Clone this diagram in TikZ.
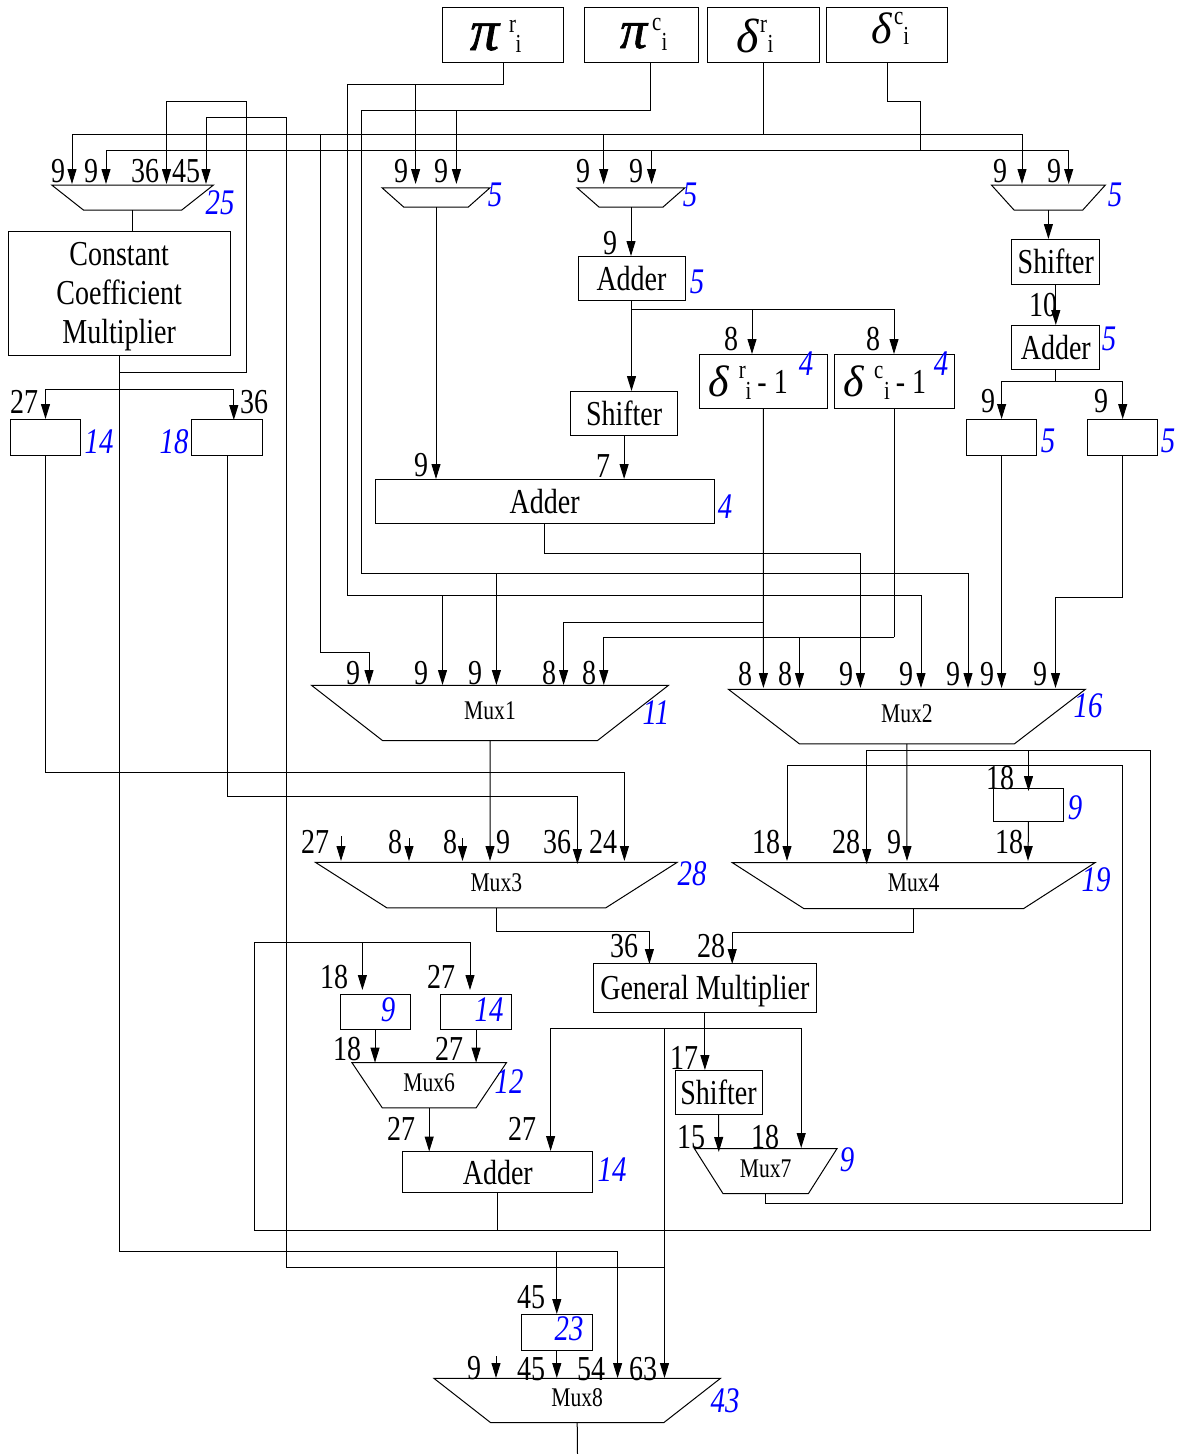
\documentclass[tikz,border=0pt]{standalone}
\usepackage{fontspec}
\setmainfont[FakeStretch=0.8]{Liberation Serif}
\newfontfamily\greekfont{Liberation Serif}
\newfontfamily\pifont[FakeBold=1.2]{Liberation Serif}
\usetikzlibrary{arrows.meta,shapes.geometric}
\newcommand{\boxsym}[9]{\smash{\makebox[0pt][l]{\hspace{#1pt}\raisebox{#2pt}{#3}}\makebox[0pt][l]{\hspace{#4pt}\raisebox{#5pt}{#6}}\makebox[0pt][l]{\hspace{#7pt}\raisebox{#8pt}{#9}}}}
\newcommand{\gsym}[2]{{\fontsize{#1}{#1}\greekfont\itshape #2}}
\newcommand{\psym}[2]{{\fontsize{#1}{#1}\pifont\itshape #2}}
\newcommand{\idx}[1]{{\fontsize{26}{26}\selectfont #1}}
\begin{document}
\begin{tikzpicture}[x=1pt,y=-1pt,
line width=1pt,
blockbox/.style 2 args={rectangle, draw, inner sep=0pt, outer sep=0pt, minimum width=#1pt, minimum height=#2pt, font=\fontsize{35}{39}\selectfont, align=center, text depth=0pt},
muxbox/.style n args={3}{trapezium, draw, shape border rotate=180, trapezium stretches body, inner xsep=0pt, inner ysep={(#2-12)/2*1pt}, outer sep=0pt, minimum width=#1pt, trapezium left angle={atan(#2/#3)}, trapezium right angle={atan(#2/#3)}, font=\fontsize{27}{27}\selectfont, text height=12pt, text depth=0pt},
bitlabel/.style={inner sep=0pt, font=\fontsize{35}{35}\selectfont},
sizelabel/.style={inner sep=0pt, text=blue, font=\fontsize{36}{36}\selectfont\itshape},
sigline/.style={arrows={-Triangle[length=15pt,width=9pt]}}]
\useasboundingbox (0,0) rectangle (1180,1454);
% Nodes
\node[blockbox={120.5}{55}] (piri) at (503,34.5) {\boxsym{-33}{-15.5}{\psym{58}{π}}{6}{2.5}{\idx{r}}{12.5}{-18}{\idx{i}}};
\node[blockbox={114}{55}] (pici) at (641,34.5) {\boxsym{-21}{-13.5}{\psym{54}{π}}{11}{4.5}{\idx{c}}{20.5}{-16}{\idx{i}}};
\node[blockbox={112}{55}] (dri) at (763.5,34.5) {\boxsym{-27.5}{-18}{\gsym{48}{δ}}{-3.5}{2.5}{\idx{r}}{4}{-18}{\idx{i}}};
\node[blockbox={121}{55}] (dci) at (887,34.5) {\boxsym{-16}{-8.8}{\gsym{44}{δ}}{7}{10.5}{\idx{c}}{16.4}{-9.8}{\idx{i}}};
\node[muxbox={161.8}{25}{31.7}] (muxa) at (132.6,197.5) {};
\node[muxbox={108}{19.3}{21.7}] (muxb) at (436,197.4) {};
\node[muxbox={108}{19.3}{22}] (muxc) at (631,197.4) {};
\node[muxbox={114}{25}{22.6}] (muxd) at (1048.4,197.5) {};
\node[blockbox={221.6}{124}] (ccm) at (119.2,293) {Constant\\Coefficient\\Multiplier};
\node[blockbox={107}{44}] (addc) at (631.5,278) {Adder};
\node[blockbox={87.7}{45}] (shd) at (1055.8,261.5) {Shifter};
\node[blockbox={87.7}{44}] (addd) at (1055.8,347) {Adder};
\node[blockbox={107}{44}] (shc) at (624.1,413) {Shifter};
\node[blockbox={128.6}{54}] (drm) at (763.3,381) {\boxsym{-55}{-15.7}{\gsym{44}{δ}}{-24.5}{2.7}{\idx{r}}{-17.6}{-18.3}{\idx{i}\hspace{6pt}\raisebox{6pt}{\fontsize{35}{35}\selectfont - 1}}};
\node[blockbox={120}{54}] (dcm) at (894,381) {\boxsym{-51}{-15.7}{\gsym{44}{δ}}{-20}{2.7}{\idx{c}}{-10}{-18.3}{\idx{i}\hspace{6pt}\raisebox{6pt}{\fontsize{35}{35}\selectfont - 1}}};
\node[blockbox={70.4}{36}] (regp) at (45.5,437) {};
\node[blockbox={70.5}{36}] (regq) at (227.2,437) {};
\node[blockbox={70.1}{36}] (regu) at (1001.6,437) {};
\node[blockbox={70.5}{36}] (regv) at (1122.7,437) {};
\node[blockbox={339}{44}] (addbig) at (544.6,501) {Adder};
\node[muxbox={357}{55.4}{71.2}] (mux1) at (490,713) {Mux1};
\node[muxbox={357.1}{54.7}{71.2}] (mux2) at (906.9,716.6) {Mux2};
\node[blockbox={70.1}{32.6}] (regw) at (1028.5,805) {};
\node[muxbox={361.4}{45.5}{71.4}] (mux3) at (496.3,885.2) {Mux3};
\node[muxbox={362.6}{46}{71.6}] (mux4) at (913.7,885.7) {Mux4};
\node[blockbox={222.8}{48.4}] (gmul) at (704.9,987.8) {General Multiplier};
\node[blockbox={70}{35.7}] (regr) at (375,1011.9) {};
\node[blockbox={70.6}{35.7}] (regs) at (476.1,1011.9) {};
\node[muxbox={154.5}{45.3}{30.4}] (mux6) at (429.2,1085.3) {Mux6};
\node[blockbox={87}{44.8}] (shg) at (718.5,1092.4) {Shifter};
\node[muxbox={142.7}{45}{28.6}] (mux7) at (765.7,1171) {Mux7};
\node[blockbox={189.8}{41}] (addg) at (497.8,1172) {Adder};
\node[blockbox={70.4}{36}] (regt) at (556.8,1332) {};
\node[muxbox={286.5}{44.3}{56.7}] (mux8) at (577.2,1400.5) {Mux8};
% Bit widths
\node[bitlabel] (la1) at (58,171) {9};
\node[bitlabel] (la2) at (91,171) {9};
\node[bitlabel] (la3) at (145,171) {36};
\node[bitlabel] (la4) at (186,171) {45};
\node[bitlabel] (lb1) at (401,171) {9};
\node[bitlabel] (lb2) at (441,171) {9};
\node[bitlabel] (lc1) at (583,171) {9};
\node[bitlabel] (lc2) at (636,171) {9};
\node[bitlabel] (ld1) at (1000,171) {9};
\node[bitlabel] (ld2) at (1054,171) {9};
\node[bitlabel] (le1) at (610,243) {9};
\node[bitlabel] (le2) at (731,339) {8};
\node[bitlabel] (le3) at (873,339) {8};
\node[bitlabel] (le4) at (1043,305) {10};
\node[bitlabel] (le5) at (988,401) {9};
\node[bitlabel] (le6) at (1101,401) {9};
\node[bitlabel] (lf1) at (24,402) {27};
\node[bitlabel] (lf2) at (254,402) {36};
\node[bitlabel] (lf3) at (421,465) {9};
\node[bitlabel] (lf4) at (603,466) {7};
\node[bitlabel] (lg1) at (353,673) {9};
\node[bitlabel] (lg2) at (421,673) {9};
\node[bitlabel] (lg3) at (475,673) {9};
\node[bitlabel] (lg4) at (549,673) {8};
\node[bitlabel] (lg5) at (589,673) {8};
\node[bitlabel] (lh1) at (745,674) {8};
\node[bitlabel] (lh2) at (785,674) {8};
\node[bitlabel] (lh3) at (846,674) {9};
\node[bitlabel] (lh4) at (906,674) {9};
\node[bitlabel] (lh5) at (953,674) {9};
\node[bitlabel] (lh6) at (987,674) {9};
\node[bitlabel] (lh7) at (1040,674) {9};
\node[bitlabel] (li1) at (315,842) {27};
\node[bitlabel] (li2) at (395,842) {8};
\node[bitlabel] (li3) at (450,842) {8};
\node[bitlabel] (li4) at (503,842) {9};
\node[bitlabel] (li5) at (557,842) {36};
\node[bitlabel] (li6) at (603,842) {24};
\node[bitlabel] (lj1) at (766,842) {18};
\node[bitlabel] (lj2) at (846,842) {28};
\node[bitlabel] (lj3) at (894,842) {9};
\node[bitlabel] (lj4) at (1009,842) {18};
\node[bitlabel] (lj5) at (1000,778) {18};
\node[bitlabel] (lk1) at (624,946) {36};
\node[bitlabel] (lk2) at (711,946) {28};
\node[bitlabel] (lk3) at (334,977) {18};
\node[bitlabel] (lk4) at (441,977) {27};
\node[bitlabel] (lk5) at (347,1049) {18};
\node[bitlabel] (lk6) at (449,1049) {27};
\node[bitlabel] (ll1) at (684,1058) {17};
\node[bitlabel] (ll2) at (401,1129) {27};
\node[bitlabel] (ll3) at (522,1129) {27};
\node[bitlabel] (ll4) at (691,1137) {15};
\node[bitlabel] (ll5) at (765,1137) {18};
\node[bitlabel] (lm1) at (531,1297) {45};
\node[bitlabel] (lm2) at (474,1368) {9};
\node[bitlabel] (lm3) at (531,1369) {45};
\node[bitlabel] (lm4) at (591,1369) {54};
\node[bitlabel] (lm5) at (643,1369) {63};
% Block sizes
\node[sizelabel] (sa) at (220,203) {25};
\node[sizelabel] (sb) at (495,195) {5};
\node[sizelabel] (sc) at (690,195) {5};
\node[sizelabel] (sd) at (1115,195) {5};
\node[sizelabel] (se) at (697,282) {5};
\node[sizelabel] (sf) at (806,364) {4};
\node[sizelabel] (sg) at (941,364) {4};
\node[sizelabel] (sh) at (1109,339) {5};
\node[sizelabel] (si) at (1048,441) {5};
\node[sizelabel] (sj) at (1168,441) {5};
\node[sizelabel] (sk) at (99,442) {14};
\node[sizelabel] (sl) at (174,442) {18};
\node[sizelabel] (sm) at (725,507) {4};
\node[sizelabel] (sn) at (656,713) {11};
\node[sizelabel] (so) at (1088,706) {16};
\node[sizelabel] (sp) at (692,874) {28};
\node[sizelabel] (sq) at (1096,880) {19};
\node[sizelabel] (sr) at (1075,808) {9};
\node[sizelabel] (ss) at (388,1010) {9};
\node[sizelabel] (st) at (489,1010) {14};
\node[sizelabel] (su) at (509,1082) {12};
\node[sizelabel] (sv) at (612,1170) {14};
\node[sizelabel] (sw) at (847,1160) {9};
\node[sizelabel] (sx) at (569,1329) {23};
\node[sizelabel] (sy) at (725,1401) {43};
% Pins
\coordinate (piciout) at (650,62);
\coordinate (muxain1) at (72,184);
\coordinate (muxain2) at (106,184);
\coordinate (muxain3) at (166.5,184);
\coordinate (muxain4) at (206,184);
\coordinate (muxbin1) at (415.6,184);
\coordinate (muxbin2) at (456.4,184);
\coordinate (muxcin1) at (603.7,184);
\coordinate (muxcin2) at (651.6,184);
\coordinate (muxdin1) at (1022,184);
\coordinate (muxdin2) at (1068.7,184);
\coordinate (mux1in1) at (369,685);
\coordinate (mux1in2) at (442.5,685);
\coordinate (mux1in3) at (496.4,685);
\coordinate (mux1in4) at (563.6,685);
\coordinate (mux1in5) at (603.8,685);
\coordinate (mux2in1) at (763.4,688);
\coordinate (mux2in2) at (799.5,688);
\coordinate (mux2in3) at (860.4,688);
\coordinate (mux2in4) at (921,688);
\coordinate (mux2in5) at (968,688);
\coordinate (mux2in6) at (1001.6,688);
\coordinate (mux2in7) at (1055.5,688);
\coordinate (mux3in1) at (341,861);
\coordinate (mux3in2) at (409,861);
\coordinate (mux3in3) at (462.5,861);
\coordinate (mux3in4) at (490,861);
\coordinate (mux3in5) at (577.4,864);
\coordinate (mux3in6) at (624.4,861);
\coordinate (mux4in1) at (787,861);
\coordinate (mux4in2) at (866.7,864);
\coordinate (mux4in3) at (907,861);
\coordinate (mux4in4) at (1028,861);
\coordinate (stuba) at (341,836);
\coordinate (stubb) at (409,838);
\coordinate (stubc) at (462.5,838);
\coordinate (stubd) at (496,1356);
\coordinate (mux8in1) at (496,1378);
\coordinate (mux8in3) at (617.6,1378);
\coordinate (mux8in4) at (664.5,1378);
\coordinate (mux7in1) at (718.8,1152);
\coordinate (mux7in2) at (801.2,1148);
\coordinate (addgin2) at (550.6,1151);
\coordinate (regqin) at (233.8,420);
\coordinate (regwin) at (1028.5,791);
\coordinate (regsin) at (470,990);
\coordinate (regrin) at (362.4,990);
\coordinate (gmulin1) at (649.4,964);
\coordinate (gmulin2) at (732.2,964);
\coordinate (outpin) at (577.5,1454);
% Turns
\coordinate (turnpi) at (347.5,84);
\coordinate (busp) at (921,595);
\coordinate (turnpc) at (361,110);
\coordinate (busq) at (968,573);
\coordinate (busr) at (763.5,134);
\coordinate (turnr) at (320.8,652);
\coordinate (turnc) at (920.6,101.7);
\coordinate (busc) at (920.6,150);
\coordinate (turnccm) at (119.2,1251);
\coordinate (turnfb) at (119.2,372);
\coordinate (loopa) at (246.5,101.7);
\coordinate (busccm) at (119.2,389);
\coordinate (junct) at (664.5,1267);
\coordinate (turnm) at (286.6,117.7);
\coordinate (busg) at (704.9,1028);
\coordinate (busout) at (497.8,1230);
\coordinate (outr) at (1150.3,750.7);
\coordinate (outl) at (254.3,942.5);
\coordinate (innb) at (1122.7,1203.4);
\coordinate (innt) at (787,765);
\coordinate (busadd) at (631.5,309.7);
\coordinate (busaddd) at (1055.8,381);
\coordinate (turnbig) at (860.4,553);
\coordinate (tapr) at (763.4,622);
\coordinate (turnd) at (894,637);
\coordinate (turnv) at (1122.7,597);
\coordinate (turnp) at (624.4,772);
\coordinate (turnq) at (577.4,796);
\coordinate (turnx) at (649.4,931.3);
\coordinate (turny) at (732.2,932.6);
% Lines
\draw (piri.south) |- (turnpi) |- (busp);
\draw[sigline] (busp) -- (mux2in4);
\draw[sigline] (muxbin1 |- turnpi) -- (muxbin1);
\draw[sigline] (mux1in2 |- busp) -- (mux1in2);
\draw (piciout) |- (turnpc) |- (busq);
\draw[sigline] (busq) -- (mux2in5);
\draw[sigline] (muxbin2 |- turnpc) -- (muxbin2);
\draw[sigline] (mux1in3 |- busq) -- (mux1in3);
\draw[sigline] (dri.south) -- (busr) -| (muxain1);
\draw[sigline] (busr) -| (muxcin1);
\draw[sigline] (busr) -| (muxdin1);
\draw[sigline] (busr) -| (turnr) -| (mux1in1);
\draw[sigline] (dci.south) |- (turnc) -- (busc) -| (muxain2);
\draw[sigline] (busc) -| (muxcin2);
\draw[sigline] (busc) -| (muxdin2);
\draw (muxa.south) -- (muxa.south |- ccm.north);
\draw[sigline] (muxb.south) -- (muxb.south |- addbig.north);
\draw[sigline] (muxc.south) -- (muxc.south |- addc.north);
\draw[sigline] (muxd.south) -- (muxd.south |- shd.north);
\draw[sigline] (ccm.south) -- (turnccm) -| (mux8in3);
\draw[sigline] (turnfb) -| (loopa) -| (muxain3);
\draw[sigline] (busccm) -| (regp.north);
\draw[sigline] (busccm) -| (regqin);
\draw[sigline] (regt.north |- turnccm) -- (regt.north);
\draw[sigline] (regt.south) -- (regt.south |- mux8in3);
\draw[sigline] (junct) -| (turnm) -| (muxain4);
\draw[sigline] (addc.south) -- (shc.north -| addc.south);
\draw[sigline] (busadd) -| (drm.north -| 752,0);
\draw[sigline] (busadd) -| (dcm.north);
\draw[sigline] (shc.south) -- (shc.south |- addbig.north);
\draw[sigline] (shd.south) -- (addd.north);
\draw (addd.south) -- (busaddd);
\draw[sigline] (busaddd) -| (regu.north);
\draw[sigline] (busaddd) -| (regv.north);
\draw (addbig.south) |- (turnbig);
\draw[sigline] (turnbig) -- (mux2in3);
\draw[sigline] (drm.south) -- (mux2in1);
\draw[sigline] (tapr) -| (mux1in4);
\draw (dcm.south) -- (turnd);
\draw[sigline] (turnd) -| (mux1in5);
\draw[sigline] (mux2in2 |- turnd) -- (mux2in2);
\draw[sigline] (regu.south) -- (mux2in6);
\draw[sigline] (regv.south) -- (turnv) -| (mux2in7);
\draw[sigline] (regp.south) |- (turnp) -- (mux3in6);
\draw[sigline] (regq.south) |- (turnq) -- (mux3in5);
\draw[sigline] (mux1.south) -- (mux3in4);
\draw[sigline] (mux2.south) -- (mux4in3);
\draw[sigline] (stuba) -- (mux3in1);
\draw[sigline] (stubb) -- (mux3in2);
\draw[sigline] (stubc) -- (mux3in3);
\draw[sigline] (regw.south) -- (mux4in4);
\draw[sigline] (mux3.south) |- (turnx) -- (gmulin1);
\draw[sigline] (mux4.south) |- (turny) -- (gmulin2);
\draw[sigline] (busout) -| (outr) -| (mux4in2);
\draw[sigline] (regwin |- outr) -- (regwin);
\draw[sigline] (busout) -| (outl) -| (regsin);
\draw[sigline] (regrin |- outl) -- (regrin);
\draw (addg.south) -- (busout);
\draw[sigline] (mux7.south) |- (innb) |- (innt) -- (mux4in1);
\draw[sigline] (regr.south) -- (regr.south |- mux6.north);
\draw[sigline] (regs.south) -- (regs.south |- mux6.north);
\draw[sigline] (mux6.south) -- (mux6.south |- addg.north);
\draw[sigline] (gmul.south) -- (shg.north -| gmul.south);
\draw[sigline] (busg) -| (addgin2);
\draw[sigline] (busg) -| (mux7in2);
\draw[sigline] (mux8in4 |- busg) -- (mux8in4);
\draw[sigline] (shg.south) -- (mux7in1);
\draw[sigline] (stubd) -- (mux8in1);
\draw (mux8.south) -- (outpin);
\end{tikzpicture}
\end{document}
